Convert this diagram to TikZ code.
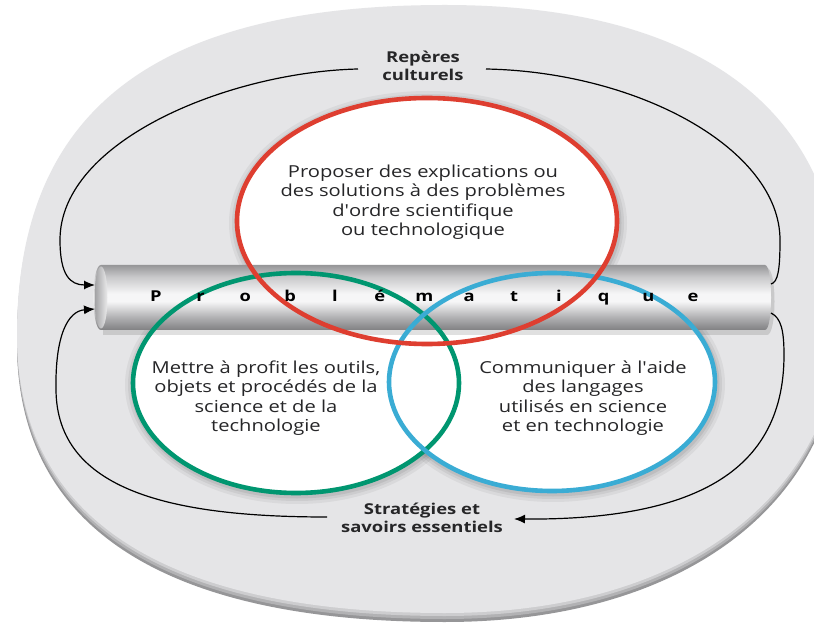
\documentclass[tikz,border=0pt]{standalone}
\usepackage{fontspec}
\setmainfont{Open Sans}
\usetikzlibrary{arrows.meta}
\definecolor{bgray}{RGB}{229,229,231}
\definecolor{rimA}{RGB}{150,150,152}
\definecolor{rimB}{RGB}{178,178,180}
\definecolor{rimC}{RGB}{205,205,207}
\definecolor{cred}{RGB}{222,62,48}
\definecolor{cgreen}{RGB}{0,150,112}
\definecolor{cblue}{RGB}{58,172,212}
\definecolor{txt}{RGB}{38,38,40}
\definecolor{tbA}{RGB}{128,128,130}
\definecolor{tbB}{RGB}{178,178,180}
\definecolor{tbC}{RGB}{246,246,247}
\definecolor{tbD}{RGB}{200,200,202}
\definecolor{tbE}{RGB}{150,150,152}
\definecolor{capA}{RGB}{160,160,162}
\definecolor{capB}{RGB}{235,235,236}
\pgfdeclareverticalshading{tubeshade}{100bp}{color(0bp)=(tbA); color(25bp)=(tbA); color(35bp)=(tbB); color(47bp)=(tbC); color(53bp)=(tbC); color(66bp)=(tbD); color(75bp)=(tbE); color(100bp)=(tbE)}
\pgfdeclarehorizontalshading{capshade}{100bp}{color(0bp)=(capA); color(25bp)=(capA); color(75bp)=(capB); color(100bp)=(capB)}
\begin{document}
\begin{tikzpicture}[x=1pt,y=-1pt,
  body/.style={align=center, font=\fontsize{16.5}{19.5}\selectfont, text=txt, xscale=1.22, inner sep=0pt},
  lbl/.style={align=center, font=\fontsize{15}{18}\selectfont\bfseries, text=txt, xscale=1.23, inner sep=0pt},
  probl/.style={font=\fontsize{15}{18}\selectfont\bfseries, text=black, xscale=1.22, inner sep=0pt},
  arc/.style={draw=black, line width=1.2pt},
  tip/.style={-{Latex[length=11pt,width=9pt]}},
  ring/.style={line width=4.6pt}]
\useasboundingbox (0,0) rectangle (814,628);
\fill[white] (0,0) rectangle (814,628);
% background disc with soft rim at the bottom
\foreach \d/\c in {9/rimA, 6/rimB, 3/rimC, 0/bgray}{
  \fill[\c, yshift=-\d pt] (17,335) .. controls (17,111) and (154,5) .. (445,5)
     .. controls (703,5) and (842,112) .. (842,310)
     .. controls (842,495) and (683,613) .. (445,613)
     .. controls (167,613) and (17,520) .. (17,335) -- cycle;
}
% circle shadows
\foreach \cx/\cy/\rx/\ry in {427/221/190/123, 296/383/163/110, 552/382/163/109}{
  \fill[black, opacity=.05] (\cx+1,\cy+2) ellipse[x radius={(\rx+9)*1pt}, y radius={(\ry+9)*1pt}];
  \fill[black, opacity=.06] (\cx+1,\cy+2) ellipse[x radius={(\rx+6)*1pt}, y radius={(\ry+6)*1pt}];
  \fill[black, opacity=.07] (\cx+1,\cy+2) ellipse[x radius={(\rx+3.5)*1pt}, y radius={(\ry+3.5)*1pt}];
}
% white fills
\fill[white] (427,221) ellipse[x radius=190pt, y radius=123pt];
\fill[white] (296,383) ellipse[x radius=163pt, y radius=110pt];
\fill[white] (552,382) ellipse[x radius=163pt, y radius=109pt];
% tube
\fill[black, opacity=.12] (103,268) -- (767,268) .. controls (777,268) and (777,335) .. (767,335) -- (103,335) -- cycle;
\shade[shading=tubeshade] (101,265) -- (765,265) .. controls (773,265) and (773,330) .. (765,330) -- (101,330) .. controls (91,330) and (91,265) .. (101,265) -- cycle;
\shade[shading=capshade] (101,297.5) ellipse[x radius=6.5pt, y radius=31pt];
% coordinates at the tube ends
\coordinate (tubeA) at (95,285);
\coordinate (tubeB) at (95,309);
\coordinate (tubeC) at (771,284);
\coordinate (tubeD) at (771,313);
% rings
\draw[cgreen, ring] (296,383) ellipse[x radius=163pt, y radius=110pt];
\draw[cblue, ring] (552,382) ellipse[x radius=163pt, y radius=109pt];
\draw[cred, ring] (427,221) ellipse[x radius=190pt, y radius=123pt];
% texts
\node[probl] (prob) at (424.5,298) {\makebox[36.7pt]{P}\makebox[36.7pt]{r}\makebox[36.7pt]{o}\makebox[36.7pt]{b}\makebox[36.7pt]{l}\makebox[36.7pt]{é}\makebox[36.7pt]{m}\makebox[36.7pt]{a}\makebox[36.7pt]{t}\makebox[36.7pt]{i}\makebox[36.7pt]{q}\makebox[36.7pt]{u}\makebox[36.7pt]{e}};
\node[body] (expl) at (423,202) {Proposer des explications ou\\des solutions à des problèmes\\d\textquotesingle ordre scientifique\\ou technologique};
\node[body] (outils) at (266,398) {Mettre à profit les outils,\\objets et procédés de la\\science et de la\\technologie};
\node[body] (lang) at (583,398) {Communiquer à l\textquotesingle aide\\des langages\\utilisés en science\\et en technologie};
\node[lbl] (rep) at (423,66) {Repères\\culturels};
\node[lbl] (strat) at (422,518) {Stratégies et\\savoirs essentiels};
\coordinate (repL) at (358,69);
\coordinate (repR) at (486,69);
\coordinate (stratL) at (327,517);
\coordinate (stratR) at (514,519);
% connectors
\draw[arc, tip] (repL) .. controls (230,72) and (60,140) .. (60,240) .. controls (60,275) and (70,285) .. (tubeA);
\draw[arc] (repR) .. controls (640,72) and (780,150) .. (780,240) .. controls (780,270) and (778,282) .. (tubeC);
\draw[arc, tip] (tubeD) .. controls (781,318) and (784,330) .. (784,355) .. controls (784,480) and (680,520) .. (stratR);
\draw[arc, tip] (stratL) .. controls (170,517) and (57,490) .. (56,390) .. controls (55,335) and (68,311) .. (tubeB);
\end{tikzpicture}
\end{document}
